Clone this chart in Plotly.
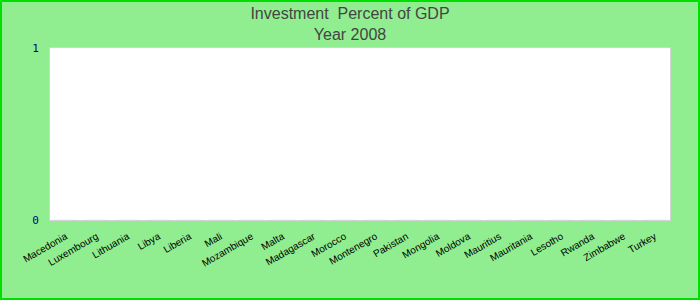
import plotly.graph_objects as go

countries = ["Macedonia", "Luxembourg", "Lithuania", "Libya", "Liberia", "Mali",
             "Mozambique", "Malta", "Madagascar", "Morocco", "Montenegro", "Pakistan",
             "Mongolia", "Moldova", "Mauritius", "Mauritania", "Lesotho", "Rwanda",
             "Zimbabwe", "Turkey"]
values = [0] * len(countries)
y_ticks = [0, 1]

W, H = 700, 300
L, R, T, B = 50, 30, 48, 80
pw, ph = W - L - R, H - T - B

fig = go.Figure(go.Bar(x=countries, y=values, marker_color="#4682b4"))

def px_x(p):
    return (p - L) / pw

def px_y(p):
    return (H - B - p) / ph

fig.update_layout(
    width=W, height=H,
    margin=dict(l=L, r=R, t=T, b=B, pad=0),
    paper_bgcolor="#90ee90",
    plot_bgcolor="white",
    showlegend=False,
    title=dict(text="Investment  Percent of GDP<br>Year 2008", x=0.5, xanchor="center",
               y=1 - 19 / H, yanchor="middle",
               font=dict(family="Liberation Sans, Arial", size=16, color="#444444")),
    xaxis=dict(tickangle=-30, tickfont=dict(family="Liberation Sans, Arial", size=10, color="black"),
               showline=True, mirror=True, linecolor="#d3d3d3", linewidth=1, showgrid=False,
               ticks="outside", ticklen=6, tickcolor="rgba(0,0,0,0)", automargin=False),
    yaxis=dict(range=[0, 1], tickvals=y_ticks, showgrid=False, zeroline=False,
               tickfont=dict(family="DejaVu Sans Mono, monospace", size=11, color="#00008b"),
               showline=True, mirror=True, linecolor="#d3d3d3", linewidth=1,
               ticks="outside", ticklen=8, tickcolor="rgba(0,0,0,0)", automargin=False),
    shapes=[dict(type="rect", xref="paper", yref="paper",
                 x0=px_x(1), x1=px_x(W - 1), y0=px_y(H - 1), y1=px_y(1),
                 line=dict(color="#00e000", width=2), fillcolor="rgba(0,0,0,0)", layer="above")],
)

fig.write_html("out.html")
